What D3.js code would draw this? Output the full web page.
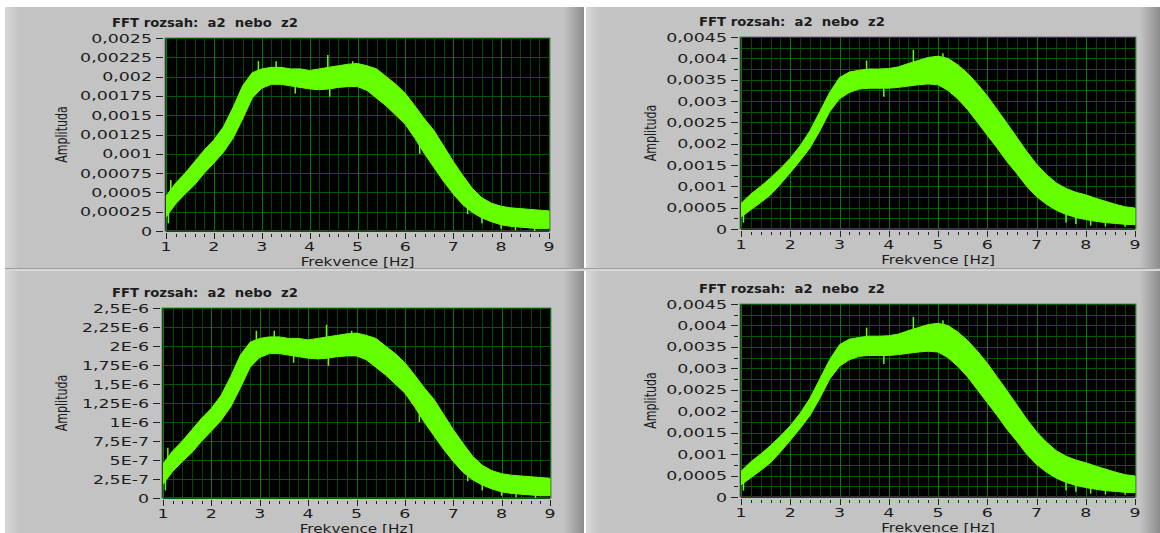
<!DOCTYPE html>
<html lang="cs">
<head>
<meta charset="UTF-8">
<title>FFT rozsah</title>
<script src="https://d3js.org/d3.v7.min.js"></script>
<style>
    body { margin: 0; background: #fff; }
    svg { display: block; }
    text { font-family: "DejaVu Sans", sans-serif; fill: #1c1c1c; }
    .title { font-weight: bold; font-size: 11.5px; white-space: pre; }
    .tick { font-size: 12px; }
    .axis-title { font-size: 12px; }
</style>
</head>
<body>
<svg id="chart" width="1160" height="533"></svg>
<script>
// frequency axis samples [Hz]
const freq = [1.0, 1.2, 1.4, 1.6, 1.8, 2.0, 2.2, 2.4, 2.6, 2.8, 3.0, 3.2, 3.4, 3.6, 3.8, 4.0, 4.2, 4.4, 4.6, 4.8,
              5.0, 5.2, 5.4, 5.6, 5.8, 6.0, 6.2, 6.4, 6.6, 6.8, 7.0, 7.2, 7.4, 7.6, 7.8, 8.0, 8.2, 8.4, 8.6, 8.8, 9.0];

// left charts: band of the spectrum (top in 1E-3, bottom in 1E-6)
const leftHi = [0.45, 0.62, 0.75, 0.9, 1.05, 1.18, 1.35, 1.6, 1.88, 2.05, 2.1, 2.12, 2.12, 2.1, 2.1, 2.08, 2.1, 2.12, 2.14, 2.16,
                2.17, 2.14, 2.1, 2.0, 1.9, 1.78, 1.62, 1.45, 1.3, 1.1, 0.9, 0.72, 0.55, 0.43, 0.36, 0.32, 0.3, 0.29, 0.28, 0.27, 0.26];
const leftLo = [0.18, 0.35, 0.48, 0.6, 0.75, 0.88, 1.02, 1.2, 1.45, 1.72, 1.85, 1.9, 1.9, 1.88, 1.86, 1.84, 1.83, 1.84, 1.86, 1.87,
                1.87, 1.82, 1.72, 1.62, 1.5, 1.38, 1.2, 1.0, 0.82, 0.64, 0.48, 0.34, 0.24, 0.17, 0.12, 0.08, 0.06, 0.05, 0.04, 0.03, 0.03];
// single spikes out of the band: [freq, from, to]
const leftSpikes = [[1.05, 0.1, 0.3], [1.1, 0.4, 0.66], [2.93, 2.0, 2.2], [3.3, 2.0, 2.2], [3.7, 1.78, 1.9],
                    [4.38, 2.0, 2.28], [4.42, 1.74, 1.9], [4.9, 2.1, 2.2], [6.3, 1.0, 1.2], [7.3, 0.22, 0.4],
                    [7.6, 0.1, 0.25], [8.0, 0.03, 0.15], [8.3, 0.01, 0.1], [8.7, 0.0, 0.05]];

// right charts: band of the spectrum in 1E-3
const rightHi = [0.6, 0.82, 1.0, 1.2, 1.42, 1.66, 1.95, 2.3, 2.75, 3.2, 3.55, 3.68, 3.72, 3.75, 3.75, 3.76, 3.8, 3.88, 3.95, 4.02,
                 4.05, 4.0, 3.85, 3.65, 3.4, 3.12, 2.8, 2.48, 2.15, 1.82, 1.52, 1.28, 1.08, 0.95, 0.86, 0.8, 0.72, 0.65, 0.58, 0.52, 0.49];
const rightLo = [0.28, 0.45, 0.62, 0.8, 1.05, 1.32, 1.6, 1.9, 2.3, 2.75, 3.05, 3.2, 3.28, 3.3, 3.3, 3.3, 3.32, 3.35, 3.38, 3.4,
                 3.38, 3.25, 3.05, 2.8, 2.5, 2.2, 1.9, 1.58, 1.3, 1.0, 0.76, 0.58, 0.44, 0.34, 0.27, 0.22, 0.18, 0.15, 0.13, 0.11, 0.1];
const rightSpikes = [[1.05, 0.15, 0.35], [3.55, 3.7, 3.95], [3.9, 3.1, 3.3], [4.5, 3.9, 4.2], [5.1, 4.0, 4.12],
                     [7.6, 0.15, 0.35], [7.8, 0.12, 0.3], [8.1, 0.08, 0.25], [8.4, 0.06, 0.15], [8.8, 0.05, 0.12]];

// tick labels
const xTicks = [1, 2, 3, 4, 5, 6, 7, 8, 9];
const ticksTopLeft = ["0", "0,00025", "0,0005", "0,00075", "0,001", "0,00125", "0,0015", "0,00175", "0,002", "0,00225", "0,0025"];
const ticksBottomLeft = ["0", "2,5E-7", "5E-7", "7,5E-7", "1E-6", "1,25E-6", "1,5E-6", "1,75E-6", "2E-6", "2,25E-6", "2,5E-6"];
const ticksRight = ["0", "0,0005", "0,001", "0,0015", "0,002", "0,0025", "0,003", "0,0035", "0,004", "0,0045"];

const titleText = "FFT rozsah:  a2  nebo  z2";

const panels = [
    { x: 5,   y: 7,   w: 579, h: 261, plot: [166, 549, 38, 231],  yMax: 2.5, step: 0.25, minor: false,
      labels: ticksTopLeft, hi: leftHi, lo: leftLo, spikes: leftSpikes, titleX: 112, ampX: 62 },
    { x: 586, y: 7,   w: 574, h: 261, plot: [741, 1135, 37, 229], yMax: 4.5, step: 0.5, minor: true,
      labels: ticksRight, hi: rightHi, lo: rightLo, spikes: rightSpikes, titleX: 699, ampX: 651 },
    { x: 5,   y: 271, w: 579, h: 262, plot: [163, 550, 308, 498], yMax: 2.5, step: 0.25, minor: false,
      labels: ticksBottomLeft, hi: leftHi, lo: leftLo, spikes: leftSpikes, titleX: 112, ampX: 62 },
    { x: 586, y: 271, w: 574, h: 262, plot: [741, 1135, 304, 497], yMax: 4.5, step: 0.5, minor: true,
      labels: ticksRight, hi: rightHi, lo: rightLo, spikes: rightSpikes, titleX: 699, ampX: 651 }
];

const svg = d3.select("#chart");
const defs = svg.append("defs");

const gLight = defs.append("linearGradient").attr("id", "lightEdge");
gLight.append("stop").attr("offset", "0%").attr("stop-color", "#d8d8d8");
gLight.append("stop").attr("offset", "100%").attr("stop-color", "#c3c3c3");
const gDark = defs.append("linearGradient").attr("id", "darkEdge");
gDark.append("stop").attr("offset", "0%").attr("stop-color", "#c3c3c3");
gDark.append("stop").attr("offset", "100%").attr("stop-color", "#8c8c8c");

// separator line between the rows
svg.append("rect").attr("x", 5).attr("y", 268).attr("width", 1155).attr("height", 3).attr("fill", "#d6d6d6");
svg.append("rect").attr("x", 5).attr("y", 268).attr("width", 1155).attr("height", 1).attr("fill", "#9c9c9c");

panels.forEach(p => {
    const g = svg.append("g");

    // panel body
    g.append("rect").attr("x", p.x).attr("y", p.y).attr("width", p.w).attr("height", p.h).attr("fill", "#c3c3c3");
    g.append("rect").attr("x", p.x).attr("y", p.y).attr("width", 14).attr("height", p.h).attr("fill", "url(#lightEdge)");
    g.append("rect").attr("x", p.x + p.w - 20).attr("y", p.y).attr("width", 20).attr("height", p.h).attr("fill", "url(#darkEdge)");

    const [x0, x1, y0, y1] = p.plot;
    const x = d3.scaleLinear().domain([1, 9]).range([x0, x1]);
    const y = d3.scaleLinear().domain([0, p.yMax]).range([y1, y0]);

    // plot area
    g.append("rect").attr("x", x0 - 1).attr("y", y0).attr("width", x1 - x0 + 2).attr("height", y1 - y0)
        .attr("fill", "#000").attr("stroke", "#6e6e6e").attr("stroke-width", 1);

    // grid
    const minorX = d3.range(1, 9.01, 0.2).filter(v => Math.abs(v - Math.round(v)) > 0.01);
    const grid = g.append("g").attr("shape-rendering", "crispEdges");
    grid.selectAll(".vmin").data(minorX).join("line")
        .attr("x1", d => Math.round(x(d)) + 0.5).attr("x2", d => Math.round(x(d)) + 0.5)
        .attr("y1", y0).attr("y2", y1).attr("stroke", "#004a00");
    const yLines = d3.range(0, p.yMax + 0.001, p.minor ? p.step / 2 : p.step);
    grid.selectAll(".h").data(yLines).join("line")
        .attr("x1", x0).attr("x2", x1)
        .attr("y1", d => Math.round(y(d)) + 0.5).attr("y2", d => Math.round(y(d)) + 0.5)
        .attr("stroke", "#005800");
    grid.selectAll(".vmaj").data(xTicks).join("line")
        .attr("x1", d => Math.round(x(d)) + 0.5).attr("x2", d => Math.round(x(d)) + 0.5)
        .attr("y1", y0).attr("y2", y1).attr("stroke", "#008000");

    // signal band
    const clipId = "clip" + p.x + "_" + p.y;
    defs.append("clipPath").attr("id", clipId).append("rect")
        .attr("x", x0).attr("y", y0).attr("width", x1 - x0 + 1).attr("height", y1 - y0);
    const sig = g.append("g").attr("clip-path", `url(#${clipId})`);
    const area = d3.area()
        .x((d, i) => x(freq[i]))
        .y0((d, i) => y(p.lo[i]))
        .y1((d, i) => y(p.hi[i]));
    sig.append("path").datum(freq).attr("d", area).attr("fill", "#66ff00")
        .attr("stroke", "#66ff00").attr("stroke-width", 1);
    sig.selectAll(".spike").data(p.spikes).join("line")
        .attr("x1", d => x(d[0])).attr("x2", d => x(d[0]))
        .attr("y1", d => y(d[1])).attr("y2", d => y(d[2]))
        .attr("stroke", "#66ff00").attr("stroke-width", 1.5);

    // y ticks and labels
    const yt = g.append("g");
    const labelStep = p.step;
    yt.selectAll(".yl").data(p.labels).join("text")
        .attr("class", "tick")
        .attr("text-anchor", "end")
        .attr("transform", (d, i) => `translate(${x0 - 14},${y(i * labelStep) + 4.5}) scale(1.45,1)`)
        .text(d => d);
    yt.selectAll(".ytk").data(p.labels).join("line")
        .attr("x1", x0 - 10).attr("x2", x0 - 3)
        .attr("y1", (d, i) => Math.round(y(i * labelStep)) + 0.5).attr("y2", (d, i) => Math.round(y(i * labelStep)) + 0.5)
        .attr("stroke", "#222").attr("shape-rendering", "crispEdges");
    if (p.minor) {
        const mids = d3.range(0, p.labels.length - 1).map(i => (i + 0.5) * labelStep);
        yt.selectAll(".ymn").data(mids).join("line")
            .attr("x1", x0 - 7).attr("x2", x0 - 3)
            .attr("y1", d => Math.round(y(d)) + 0.5).attr("y2", d => Math.round(y(d)) + 0.5)
            .attr("stroke", "#222").attr("shape-rendering", "crispEdges");
    }

    // x ticks and labels
    const xt = g.append("g").attr("shape-rendering", "crispEdges");
    xt.selectAll(".xmaj").data(xTicks).join("line")
        .attr("x1", d => Math.round(x(d)) + 0.5).attr("x2", d => Math.round(x(d)) + 0.5)
        .attr("y1", y1 + 2).attr("y2", y1 + 8).attr("stroke", "#222");
    xt.selectAll(".xmin").data(minorX).join("line")
        .attr("x1", d => Math.round(x(d)) + 0.5).attr("x2", d => Math.round(x(d)) + 0.5)
        .attr("y1", y1 + 3).attr("y2", y1 + 6).attr("stroke", "#222");
    g.selectAll(".xl").data(xTicks).join("text")
        .attr("class", "tick")
        .attr("text-anchor", "middle")
        .attr("transform", d => `translate(${x(d)},${y1 + 20}) scale(1.45,1)`)
        .text(d => d);

    g.append("text").attr("class", "axis-title").attr("text-anchor", "middle")
        .attr("transform", `translate(${(x0 + x1) / 2},${y1 + 35}) scale(1.27,1)`)
        .text("Frekvence [Hz]");

    g.append("text").attr("class", "axis-title").attr("text-anchor", "middle")
        .attr("transform", `translate(${p.ampX + 5},${(y0 + y1) / 2}) scale(1.4,1) rotate(-90)`)
        .style("font-size", "11px")
        .text("Amplituda");

    g.append("text").attr("class", "title")
        .attr("transform", `translate(${p.titleX},${y0 - 11}) scale(1.15,1)`)
        .text(titleText);
});
</script>
</body>
</html>
